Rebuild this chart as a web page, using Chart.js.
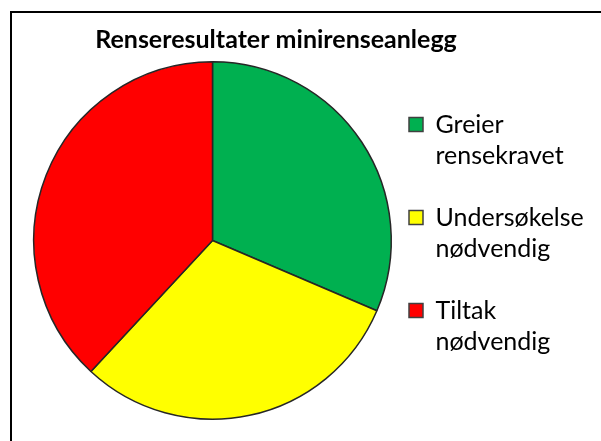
<!DOCTYPE html>
<html>
<head>
<meta charset="utf-8">
<script src="https://cdn.jsdelivr.net/npm/chart.js@4"></script>
<style>
  html, body { margin: 0; padding: 0; background: #fff; overflow: hidden; }
  #frame { position: absolute; left: 10px; top: 11px; width: 640px; height: 480px; border: 2px solid #000; }
  #wrap { position: absolute; left: 0; top: 0; width: 601px; height: 441px; }
</style>
</head>
<body>
<div id="frame"></div>
<div id="wrap"><canvas id="chart" width="601" height="441"></canvas></div>
<script>
const title = "Renseresultater minirenseanlegg";
const categories = [
  ["Greier", "rensekravet"],
  ["Undersøkelse", "nødvendig"],
  ["Tiltak", "nødvendig"]
];
const values = [33, 32, 40];
const colors = ["#00B050", "#FFFF00", "#FF0000"];

// legend sits a bit left of its layout box and may overflow to the right edge
const legendSpread = {
  id: "legendSpread",
  afterLayout(chart) {
    const lg = chart.legend;
    lg.left = 378;
    lg.right = 601;
    lg.width = lg.right - lg.left;
    lg.top = 52;
  }
};

const ctx = document.getElementById("chart").getContext("2d");

new Chart(ctx, {
  type: "pie",
  data: {
    labels: categories,
    datasets: [{
      data: values,
      backgroundColor: colors,
      borderColor: "#262626",
      borderWidth: 1.5
    }]
  },
  options: {
    responsive: false,
    animation: false,
    events: [],
    layout: { padding: { left: 33, right: 82, top: 0, bottom: 21 } },
    plugins: {
      title: {
        display: true,
        text: title,
        color: "#000",
        font: { family: "Lato", size: 25, weight: "bold", lineHeight: 1.2 },
        padding: { top: 25, bottom: 6 }
      },
      legend: {
        position: "right",
        align: "center",
        fullSize: false,
        maxWidth: 127,
        labels: {
          color: "#000",
          boxWidth: 14,
          boxHeight: 14,
          padding: 31,
          font: { family: "Lato", size: 25, lineHeight: 1.24 },
          generateLabels: (chart) => {
            const ds = chart.data.datasets[0];
            return chart.data.labels.map((label, i) => ({
              text: label,
              fillStyle: ds.backgroundColor[i],
              strokeStyle: "#404040",
              lineWidth: 1.5,
              fontColor: "#000",
              hidden: false,
              index: i
            }));
          }
        }
      },
      tooltip: { enabled: false }
    }
  },
  plugins: [legendSpread]
});
</script>
</body>
</html>
